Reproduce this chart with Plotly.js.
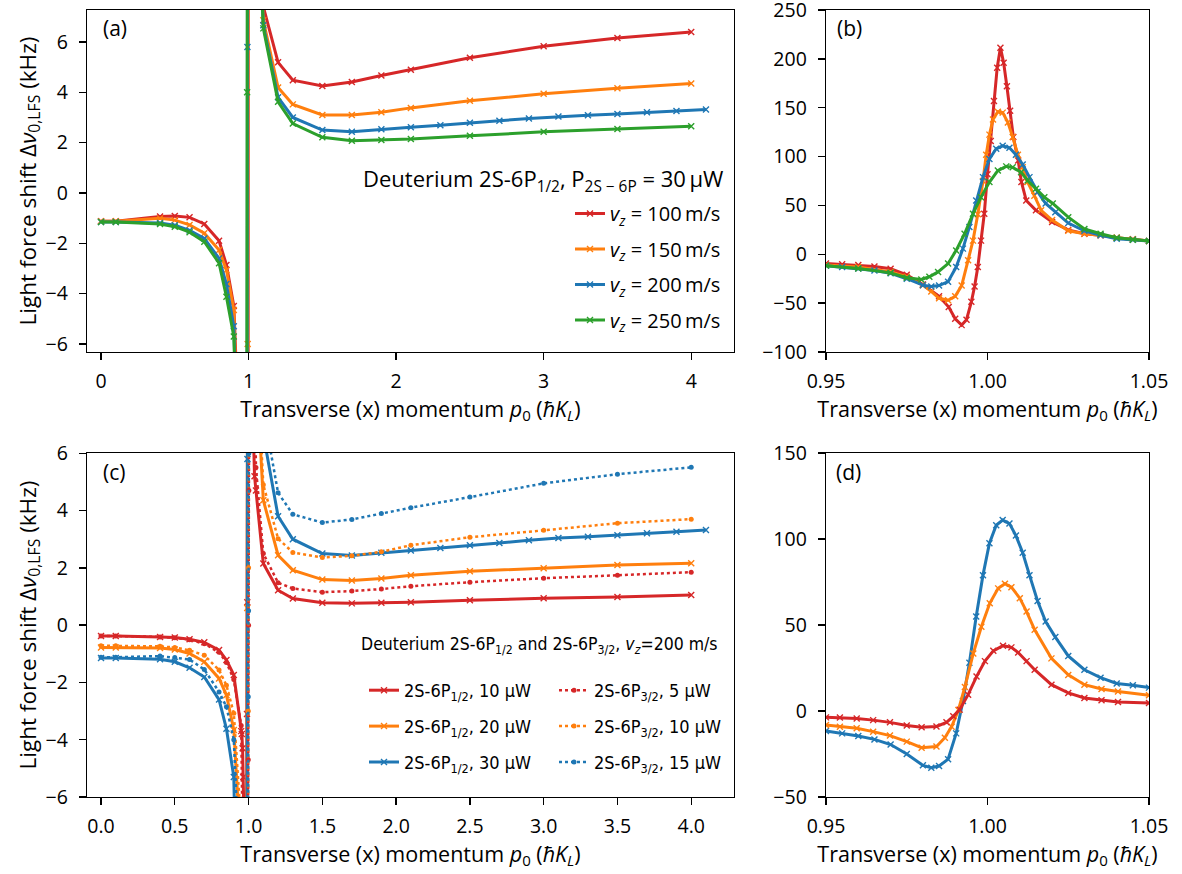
<!DOCTYPE html>
<html>
<head>
<meta charset="utf-8">
<script src="https://cdn.plot.ly/plotly-3.0.1.min.js"></script>
<style>
  html, body { margin: 0; padding: 0; background: #fff; }
  #chart { width: 1182px; height: 874px; }
</style>
</head>
<body>
<div id="chart"></div>
<script>
// ---------- transverse momentum grids (units of hbar K_L) ----------
const leftP = [0, 0.1, 0.4, 0.5, 0.6, 0.7, 0.8, 0.85, 0.9];
const rightP = [1.1, 1.2, 1.3, 1.5, 1.7, 1.9, 2.1, 2.5, 3.0, 3.5, 4.0];
const rightPDense = [1.1, 1.2, 1.3, 1.5, 1.7, 1.9, 2.1, 2.3, 2.5, 2.7, 2.9, 3.1, 3.3, 3.5, 3.7, 3.9, 4.1];

// ---------- 2S-6P1/2, 30 uW, coarse scan (kHz) ----------
const v100Left  = [-1.12, -1.12, -0.94, -0.92, -0.97, -1.23, -1.90, -2.86, -4.49];
const v100Right = [7.40, 5.19, 4.48, 4.25, 4.41, 4.67, 4.90, 5.37, 5.83, 6.16, 6.40];
const v150Left  = [-1.12, -1.12, -1.01, -1.08, -1.27, -1.60, -2.27, -3.06, -4.65];
const v150Right = [6.86, 4.19, 3.52, 3.10, 3.10, 3.21, 3.38, 3.66, 3.94, 4.16, 4.35];
const v200Left  = [-1.15, -1.15, -1.19, -1.28, -1.49, -1.81, -2.60, -3.62, -5.30];
const v200Right = [6.66, 3.80, 3.00, 2.50, 2.43, 2.53, 2.61, 2.69, 2.79, 2.87, 2.96, 3.04, 3.09, 3.14, 3.21, 3.26, 3.32];
const v250Left  = [-1.15, -1.15, -1.23, -1.34, -1.56, -1.94, -2.79, -4.12, -5.70];
const v250Right = [6.54, 3.62, 2.76, 2.21, 2.07, 2.10, 2.14, 2.27, 2.43, 2.54, 2.65];

// ---------- fine scan around p0 = 1 (kHz) ----------
const v100FineX = [0.950, 0.955, 0.960, 0.965, 0.970, 0.975, 0.980, 0.985, 0.988, 0.990, 0.992, 0.9935, 0.995, 0.996, 0.997, 0.998, 0.999, 1.000, 1.001, 1.002, 1.003, 1.004, 1.005, 1.006, 1.007, 1.008, 1.0095, 1.0105, 1.012, 1.015, 1.020, 1.025, 1.030, 1.035, 1.040, 1.045, 1.050];
const v100FineY = [-9.5, -10.3, -11, -12.4, -14.8, -21, -31, -43, -54, -66, -72.5, -67, -48.6, -33, -13, 14, 41.5, 82, 116, 157, 191, 211.5, 196, 172, 147, 120, 96, 74, 55, 45, 33, 25, 21, 19.4, 17, 15.3, 13.6];
const v150FineX = [0.950, 0.960, 0.970, 0.975, 0.980, 0.9826, 0.985, 0.9878, 0.990, 0.992, 0.994, 0.9955, 0.997, 0.9986, 0.9996, 1.0006, 1.0017, 1.0032, 1.0047, 1.0063, 1.0078, 1.0094, 1.0109, 1.0124, 1.0145, 1.0166, 1.020, 1.025, 1.030, 1.035, 1.040, 1.045, 1.050];
const v150FineY = [-11, -13, -18, -23, -31.6, -38, -45, -47, -43, -32, -6, 14, 41, 75, 102, 122.5, 138, 146, 145, 135, 120, 102, 89, 74, 60, 45, 35, 24, 21, 19.4, 17, 15.3, 13.6];
const v200FineX = [0.950, 0.955, 0.960, 0.965, 0.970, 0.975, 0.980, 0.9826, 0.985, 0.9878, 0.9903, 0.9924, 0.9944, 0.9965, 0.9986, 1.0006, 1.0027, 1.0047, 1.0068, 1.0088, 1.0109, 1.013, 1.0155, 1.018, 1.021, 1.025, 1.030, 1.035, 1.040, 1.045, 1.050];
const v200FineY = [-11.6, -13, -14.5, -16.5, -19.5, -25, -31.6, -33, -32, -28, -13, 5.8, 28, 55, 79, 97.6, 108, 111, 109, 102, 92, 79, 64, 52, 43, 32, 24, 19.4, 16, 15, 13.6];
const v250FineX = [0.950, 0.960, 0.970, 0.975, 0.9795, 0.982, 0.9847, 0.9878, 0.9903, 0.9929, 0.9955, 0.998, 1.0006, 1.0032, 1.0058, 1.0078, 1.0104, 1.0124, 1.015, 1.0176, 1.0202, 1.025, 1.030, 1.035, 1.040, 1.045, 1.050];
const v250FineY = [-11.6, -14.6, -19, -24, -25.8, -23, -18, -9.5, 4, 21, 41.5, 58.5, 74, 85.7, 90, 89, 84, 75.5, 67, 58.5, 52, 38, 26, 21, 17, 15, 13.6];

// ---------- 2S-6P1/2 at v_z = 200 m/s, 10 and 20 uW ----------
const p12w10Left  = [-0.38, -0.38, -0.41, -0.43, -0.49, -0.60, -0.87, -1.22, -1.74];
const p12w10Right = [2.15, 1.22, 0.93, 0.78, 0.76, 0.78, 0.80, 0.87, 0.94, 0.98, 1.05];
const p12w20Left  = [-0.78, -0.78, -0.80, -0.85, -0.99, -1.28, -1.86, -2.44, -3.66];
const p12w20Right = [4.36, 2.44, 1.92, 1.59, 1.56, 1.63, 1.74, 1.88, 1.99, 2.10, 2.16];
const p12w10FineX = [0.950, 0.9543, 0.9595, 0.9646, 0.9698, 0.975, 0.9796, 0.9842, 0.9873, 0.9894, 0.9914, 0.994, 0.9966, 0.9992, 1.0018, 1.0048, 1.0074, 1.0095, 1.0121, 1.0146, 1.0198, 1.025, 1.030, 1.0353, 1.0404, 1.050];
const p12w10FineY = [-3.7, -3.8, -4.3, -5.3, -6.6, -8.4, -9.5, -9.0, -6.6, -3.1, 0.8, 9.5, 20, 29, 35, 38, 37, 34, 29, 24, 15.3, 10.5, 7.6, 6.2, 5.2, 4.7];
const p12w20FineX = [0.950, 0.9543, 0.9595, 0.9646, 0.9698, 0.975, 0.9796, 0.9842, 0.9868, 0.9889, 0.991, 0.993, 0.9956, 0.9981, 1.0007, 1.0033, 1.0054, 1.0074, 1.010, 1.0121, 1.0146, 1.0198, 1.025, 1.030, 1.0353, 1.0404, 1.050];
const p12w20FineY = [-8.1, -9.1, -10, -12, -14.3, -17.8, -21.3, -20.7, -15.5, -9.1, 0.6, 14, 33.5, 49, 62.6, 71.3, 74, 72, 65.6, 57.8, 47.2, 30.6, 21, 15.3, 12.8, 11.4, 9.1];

// ---------- 2S-6P3/2 at v_z = 200 m/s ----------
const p32X    = [0, 0.1, 0.4, 0.5, 0.6, 0.7, 0.8, 0.85, 0.9, 0.95, 0.99, 0.998, 1.0, 1.002, 1.01, 1.05, 1.1, 1.2, 1.3, 1.5, 1.7, 1.9, 2.1, 2.5, 3.0, 3.5, 4.0];
const p32w5   = [-0.38, -0.38, -0.41, -0.44, -0.51, -0.65, -0.95, -1.30, -1.90, -3.5, -20, -4.7, 0, 4.7, 20, 5.5, 2.5, 1.48, 1.28, 1.15, 1.19, 1.26, 1.36, 1.50, 1.64, 1.74, 1.85];
const p32w10  = [-0.72, -0.72, -0.74, -0.78, -0.88, -1.05, -1.57, -2.10, -3.08, -7, -35, -3, 2, 8, 40, 10, 4.9, 3.02, 2.54, 2.36, 2.42, 2.56, 2.79, 3.07, 3.31, 3.56, 3.70];
const p32w15  = [-1.12, -1.12, -1.08, -1.13, -1.20, -1.55, -2.33, -2.85, -4.00, -10, -50, -2.5, 0.5, 6, 60, 14, 7.5, 4.62, 3.87, 3.58, 3.69, 3.90, 4.10, 4.47, 4.95, 5.27, 5.51];

// ---------- labels ----------
const vzLabels = ['100', '150', '200', '250'];
const powerLabels12 = ['10', '20', '30'];
const powerLabels32 = ['5', '10', '15'];

const RED = '#d62728', ORANGE = '#ff7f0e', BLUE = '#1f77b4', GREEN = '#2ca02c';
const FONT = '"Open Sans", "Noto Sans", sans-serif';
const NARROW = '"Liberation Sans Narrow", "DejaVu Sans Condensed", Lato, sans-serif';
const TS = '\u2009';  // thin space

function solid(x, y, color, xa, ya, name, legend, show) {
  return {
    type: 'scatter', mode: 'lines+markers', x: x, y: y, xaxis: xa, yaxis: ya,
    name: name, legend: legend, showlegend: !!show, legendgroup: name + legend,
    line: { color: color, width: 3 },
    marker: { symbol: 'x-thin', size: 6, color: color, line: { color: color, width: 1.4 } }
  };
}
function dotted(x, y, color, xa, ya, name, legend, show) {
  return {
    type: 'scatter', mode: 'lines+markers', x: x, y: y, xaxis: xa, yaxis: ya,
    name: name, legend: legend, showlegend: !!show, legendgroup: name + legend,
    line: { color: color, width: 2.5, dash: 'dot' },
    marker: { symbol: 'circle', size: 5, color: color }
  };
}
const cat = (a, b, c) => a.concat(b, c);

const vz = n => '<i>v</i><sub><i>z</i></sub> = ' + n + TS + 'm/s';
const p12 = w => '2S-6P<sub>1/2</sub>, ' + w + ' µW';
const p32 = w => '2S-6P<sub>3/2</sub>, ' + w + ' µW';

const traces = [
  // (a) full scan
  solid(cat(leftP, v100FineX, rightP), cat(v100Left, v100FineY, v100Right), RED, 'x', 'y', vz(vzLabels[0]), 'legend', true),
  solid(cat(leftP, v150FineX, rightP), cat(v150Left, v150FineY, v150Right), ORANGE, 'x', 'y', vz(vzLabels[1]), 'legend', true),
  solid(cat(leftP, v200FineX, rightPDense), cat(v200Left, v200FineY, v200Right), BLUE, 'x', 'y', vz(vzLabels[2]), 'legend', true),
  solid(cat(leftP, v250FineX, rightP), cat(v250Left, v250FineY, v250Right), GREEN, 'x', 'y', vz(vzLabels[3]), 'legend', true),
  // (b) zoom around the resonance
  solid(v100FineX, v100FineY, RED, 'x2', 'y2', vz(vzLabels[0]), 'legend'),
  solid(v150FineX, v150FineY, ORANGE, 'x2', 'y2', vz(vzLabels[1]), 'legend'),
  solid(v200FineX, v200FineY, BLUE, 'x2', 'y2', vz(vzLabels[2]), 'legend'),
  solid(v250FineX, v250FineY, GREEN, 'x2', 'y2', vz(vzLabels[3]), 'legend'),
  // (c) power dependence
  solid(cat(leftP, p12w10FineX, rightP), cat(p12w10Left, p12w10FineY, p12w10Right), RED, 'x3', 'y3', p12(powerLabels12[0]), 'legend2', true),
  solid(cat(leftP, p12w20FineX, rightP), cat(p12w20Left, p12w20FineY, p12w20Right), ORANGE, 'x3', 'y3', p12(powerLabels12[1]), 'legend2', true),
  solid(cat(leftP, v200FineX, rightPDense), cat(v200Left, v200FineY, v200Right), BLUE, 'x3', 'y3', p12(powerLabels12[2]), 'legend2', true),
  dotted(p32X, p32w5, RED, 'x3', 'y3', p32(powerLabels32[0]), 'legend3', true),
  dotted(p32X, p32w10, ORANGE, 'x3', 'y3', p32(powerLabels32[1]), 'legend3', true),
  dotted(p32X, p32w15, BLUE, 'x3', 'y3', p32(powerLabels32[2]), 'legend3', true),
  // (d) zoom around the resonance
  solid(v200FineX, v200FineY, BLUE, 'x4', 'y4', p12(powerLabels12[2]), 'legend2'),
  solid(p12w20FineX, p12w20FineY, ORANGE, 'x4', 'y4', p12(powerLabels12[1]), 'legend2'),
  solid(p12w10FineX, p12w10FineY, RED, 'x4', 'y4', p12(powerLabels12[0]), 'legend2')
];

const W = 1182, H = 874;
const colL = [87 / W, 734 / W], colR = [826 / W, 1149 / W];
const rowT = [1 - 352 / H, 1 - 10 / H], rowB = [1 - 797 / H, 1 - 453 / H];

const base = {
  showline: true, mirror: true, linecolor: '#000', linewidth: 1.3,
  ticks: 'outside', ticklen: 7, tickwidth: 1.3, tickcolor: '#000',
  showgrid: false, zeroline: false, ticklabeloverflow: 'allow',
  tickfont: { family: FONT, size: 19.5, color: '#000' }
};
const xBase = Object.assign({}, base, { ticklabelstandoff: 4 });
const yBase = Object.assign({}, base, { ticklabelstandoff: 7 });
const xTitle = {
  text: 'Transverse (x) momentum <i>p</i><sub>0</sub> (<i>ħK</i><sub><i>L</i></sub>)',
  font: { family: FONT, size: 21.5, color: '#000' }, standoff: 3
};
const yTitle = {
  text: 'Light force shift Δ<i>ν</i><sub>0,LFS</sub> (kHz)',
  font: { family: FONT, size: 22.5, color: '#000' }, standoff: 1
};

const legendBase = {
  bgcolor: 'rgba(0,0,0,0)', borderwidth: 0, traceorder: 'grouped',
  xanchor: 'right', yanchor: 'top', itemwidth: 30
};

const layout = {
  width: W, height: H,
  margin: { l: 0, r: 0, t: 0, b: 0 },
  paper_bgcolor: '#fff', plot_bgcolor: '#fff',
  font: { family: FONT, color: '#000' },
  xaxis:  Object.assign({}, xBase, { domain: colL, anchor: 'y', range: [-0.095, 4.29], tickvals: [0, 1, 2, 3, 4], title: xTitle }),
  yaxis:  Object.assign({}, yBase, { domain: rowT, anchor: 'x', range: [-6.32, 7.27], tickvals: [-6, -4, -2, 0, 2, 4, 6], title: yTitle }),
  xaxis2: Object.assign({}, xBase, { domain: colR, anchor: 'y2', range: [0.95, 1.05], tickvals: [0.95, 1.0, 1.05], tickformat: '.2f', title: xTitle }),
  yaxis2: Object.assign({}, yBase, { domain: rowT, anchor: 'x2', range: [-100, 250.05], tickvals: [-100, -50, 0, 50, 100, 150, 200, 250] }),
  xaxis3: Object.assign({}, xBase, { domain: colL, anchor: 'y3', range: [-0.095, 4.29], tickvals: [0, 0.5, 1, 1.5, 2, 2.5, 3, 3.5, 4], tickformat: '.1f', title: xTitle }),
  yaxis3: Object.assign({}, yBase, { domain: rowB, anchor: 'x3', range: [-6, 6.01], tickvals: [-6, -4, -2, 0, 2, 4, 6], title: yTitle }),
  xaxis4: Object.assign({}, xBase, { domain: colR, anchor: 'y4', range: [0.95, 1.05], tickvals: [0.95, 1.0, 1.05], tickformat: '.2f', title: xTitle }),
  yaxis4: Object.assign({}, yBase, { domain: rowB, anchor: 'x4', range: [-50, 150.02], tickvals: [-50, 0, 50, 100, 150] }),
  legend: Object.assign({}, legendBase, {
    x: 726 / W, y: 1 - 194 / H, tracegroupgap: 6.5,
    font: { family: FONT, size: 20, color: '#000' }
  }),
  legend2: Object.assign({}, legendBase, {
    xanchor: 'left', x: 364 / W, y: 1 - 672 / H, tracegroupgap: 9.5,
    font: { family: NARROW, size: 18, color: '#000' }
  }),
  legend3: Object.assign({}, legendBase, {
    xanchor: 'left', x: 554 / W, y: 1 - 672 / H, tracegroupgap: 9.5,
    font: { family: NARROW, size: 18, color: '#000' }
  }),
  annotations: [
    { text: '(a)', xref: 'x domain', yref: 'y domain', x: 0.022, y: 0.947, xanchor: 'left', yanchor: 'middle', showarrow: false, font: { family: FONT, size: 21 } },
    { text: '(b)', xref: 'x2 domain', yref: 'y2 domain', x: 0.028, y: 0.947, xanchor: 'left', yanchor: 'middle', showarrow: false, font: { family: FONT, size: 21 } },
    { text: '(c)', xref: 'x3 domain', yref: 'y3 domain', x: 0.022, y: 0.945, xanchor: 'left', yanchor: 'middle', showarrow: false, font: { family: FONT, size: 21 } },
    { text: '(d)', xref: 'x4 domain', yref: 'y4 domain', x: 0.026, y: 0.945, xanchor: 'left', yanchor: 'middle', showarrow: false, font: { family: FONT, size: 21 } },
    { text: 'Deuterium 2S-6P<sub>1/2</sub>, P<sub>2S − 6P</sub> = 30' + TS + 'µW', xref: 'paper', yref: 'paper', x: 725 / W, y: 1 - 180 / H, xanchor: 'right', yanchor: 'middle', showarrow: false, font: { family: FONT, size: 22 } },
    { text: 'Deuterium 2S-6P<sub>1/2</sub> and 2S-6P<sub>3/2</sub>, <i>v</i><sub><i>z</i></sub>=200 m/s', xref: 'paper', yref: 'paper', x: 720 / W, y: 1 - 645 / H, xanchor: 'right', yanchor: 'middle', showarrow: false, font: { family: NARROW, size: 17.5 } }
  ]
};

Plotly.newPlot('chart', traces, layout, { displayModeBar: false, staticPlot: true });
</script>
</body>
</html>
